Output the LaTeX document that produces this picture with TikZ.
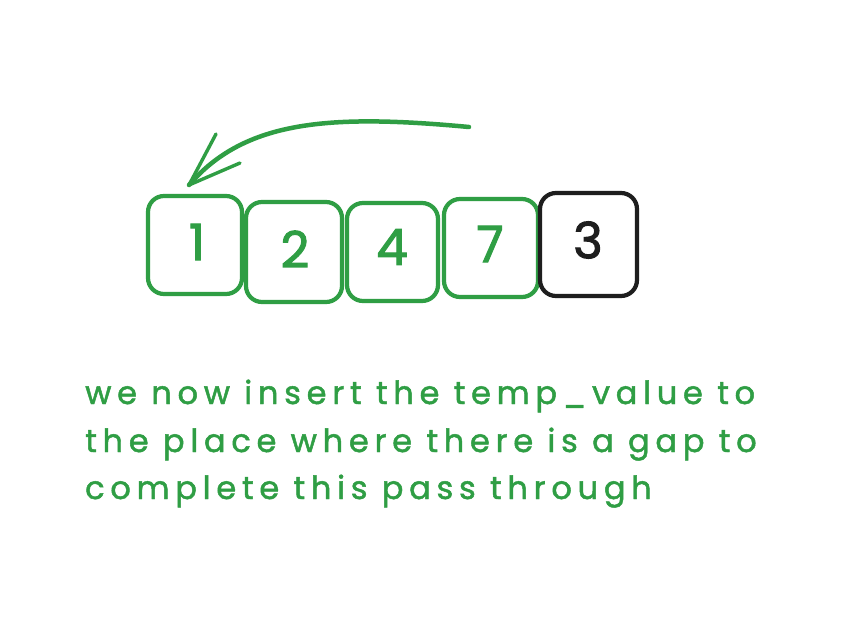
\documentclass[tikz,border=0pt]{standalone}
\usepackage{fontspec}
\setmainfont{Poppins}
\newfontfamily\notefont[LetterSpace=18,FakeBold=1.5]{Poppins}
\newfontfamily\digitfont[FakeBold=2]{Poppins}
\definecolor{exgreen}{HTML}{2F9E44}
\definecolor{exblack}{HTML}{1E1E1E}
\begin{document}
\begin{tikzpicture}[x=1pt,y=-1pt,
  cellbox/.style={draw=exgreen,line width=4.2pt,rounded corners=16pt,fill=white},
  digit/.style={text=exgreen,font=\digitfont\fontsize{50}{50}\selectfont},
  note/.style={text=exgreen,anchor=base west,inner sep=0pt,font=\notefont\fontsize{32}{32}\selectfont},
  stroke/.style={draw=exgreen,line width=4.5pt,line cap=round,line join=round}]
\useasboundingbox[fill=white] (0,0) rectangle (841,619);
% boxes
\draw[cellbox] (148,196) rectangle (242,294);
\draw[cellbox] (246,202) rectangle (342,302);
\draw[cellbox] (347,203) rectangle (438,301);
\draw[cellbox] (444,199) rectangle (538,297);
\draw[cellbox,draw=exblack] (540,193) rectangle (637,296);
\node[digit] (d1) at (197,242) {1};
\node[digit] (d2) at (295,249) {2};
\node[digit] (d3) at (392,247) {4};
\node[digit] (d4) at (490,244) {7};
\node[digit,text=exblack] (d5) at (588,240) {3};
% arrow
\coordinate (as) at (469,127);
\coordinate (tip) at (189,185);
\coordinate (h1) at (216,134);
\coordinate (h2) at (240,163);
\draw[stroke] (as) .. controls (330,114) and (245,120) .. (tip);
\draw[stroke,line width=3.4pt] (h1) -- (tip) -- (h2);
% text
\node[note] (t1) at (85,404) {we now insert the temp\_value to};
\node[note] (t2) at (85,452) {the place where there is a gap to};
\node[note] (t3) at (85,499) {complete this pass through};
\end{tikzpicture}
\end{document}
